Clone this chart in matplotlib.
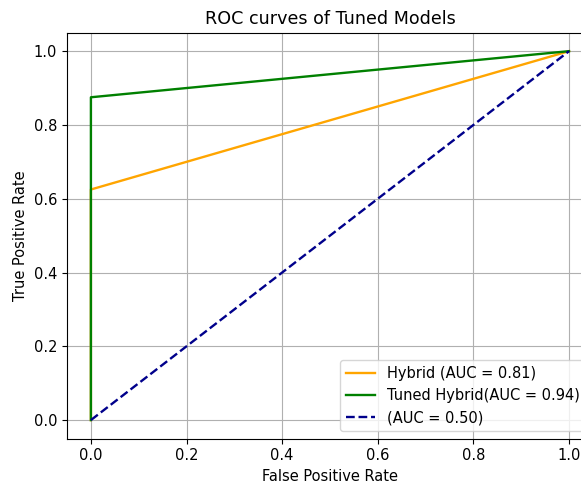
import matplotlib
matplotlib.use('Agg')
import matplotlib.pyplot as plt

# ROC points
fpr_hybrid = [0.0, 0.0, 1.0]
tpr_hybrid = [0.0, 0.625, 1.0]
fpr_tuned = [0.0, 0.0, 1.0]
tpr_tuned = [0.0, 0.875, 1.0]
fpr_chance = [0.0, 1.0]
tpr_chance = [0.0, 1.0]

auc_hybrid = 0.81
auc_tuned = 0.94
auc_chance = 0.50

plt.rcParams['font.size'] = 10.5
plt.rcParams['axes.titlesize'] = 12.6

fig = plt.figure(figsize=(5.81, 4.86), dpi=100)
ax = fig.add_axes([0.1153, 0.0977, 0.9053, 0.835])

ax.plot(fpr_hybrid, tpr_hybrid, color='orange', lw=1.7,
        label='Hybrid (AUC = %0.2f)' % auc_hybrid)
ax.plot(fpr_tuned, tpr_tuned, color='green', lw=1.7,
        label='Tuned Hybrid(AUC = %0.2f)' % auc_tuned)
ax.plot(fpr_chance, tpr_chance, color='darkblue', lw=1.7, linestyle='--',
        label='(AUC = %0.2f)' % auc_chance)

ax.set_xlim(-0.05, 1.05)
ax.set_ylim(-0.05, 1.05)
ax.set_xlabel('False Positive Rate')
ax.set_ylabel('True Positive Rate')
ax.set_title('ROC curves of Tuned Models')
ax.legend(loc='lower right')
ax.grid(True)

fig.savefig('out.png', dpi=100)
